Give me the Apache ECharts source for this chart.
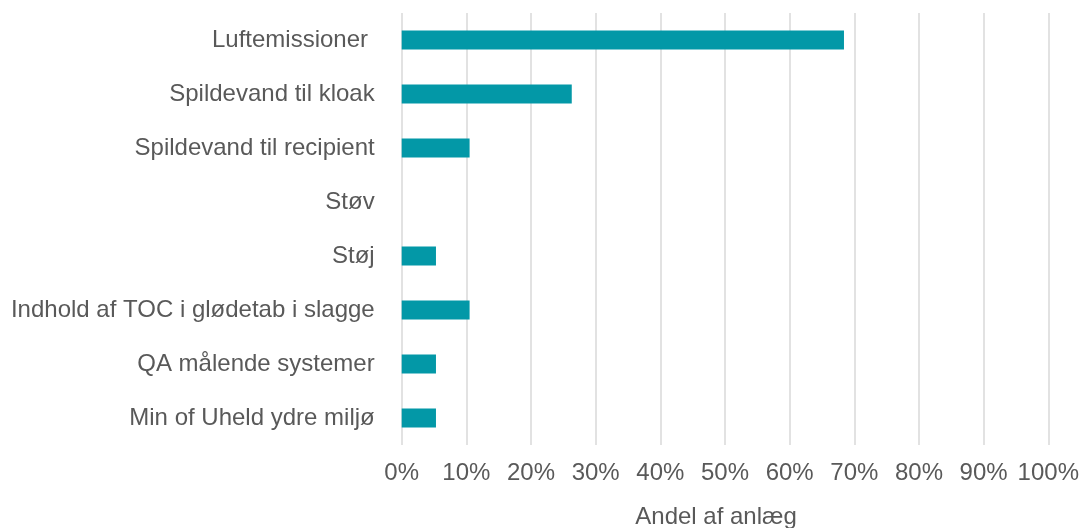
<!DOCTYPE html>
<html>
<head>
<meta charset="utf-8">
<script src="https://cdn.jsdelivr.net/npm/echarts@6/dist/echarts.min.js"></script>
<style>
html,body{margin:0;padding:0;background:#fff;}
#chart{width:1083px;height:528px;}
</style>
</head>
<body>
<div id="chart"></div>
<script>
const categories = [
  "Luftemissioner ",
  "Spildevand til kloak",
  "Spildevand til recipient",
  "Støv",
  "Støj",
  "Indhold af TOC i glødetab i slagge",
  "QA målende systemer",
  "Min of Uheld ydre miljø"
];
const shares = [68.4, 26.3, 10.5, 0, 5.3, 10.5, 5.3, 5.3];
const xAxisTitle = "Andel af anlæg";

const font = "'Liberation Sans', Arial, sans-serif";
const chart = echarts.init(document.getElementById('chart'), null, {renderer: 'canvas'});
chart.setOption({
  animation: false,
  grid: {left: 401.7, right: 34.7, top: 13, bottom: 83, containLabel: false, outerBoundsMode: 'none'},
  xAxis: {
    type: 'value',
    min: 0, max: 100, interval: 10,
    axisLine: {show: false},
    axisTick: {show: false},
    splitLine: {show: true, lineStyle: {color: '#d9d9d9', width: 1.5}},
    axisLabel: {formatter: v => v + '%', color: '#595959', fontSize: 24, fontFamily: font, margin: 16},
    name: xAxisTitle,
    nameLocation: 'middle',
    nameGap: 60,
    nameTextStyle: {color: '#595959', fontSize: 24, fontFamily: font, padding: [0, 18, 0, 0]}
  },
  yAxis: {
    type: 'category',
    data: categories,
    inverse: true,
    axisLine: {show: false},
    axisTick: {show: false},
    splitLine: {show: false},
    axisLabel: {color: '#595959', fontSize: 24, fontFamily: font, margin: 27}
  },
  series: [{
    type: 'bar',
    data: shares,
    barWidth: 19,
    itemStyle: {color: '#0398A7', borderWidth: 0}
  }]
});
</script>
</body>
</html>
